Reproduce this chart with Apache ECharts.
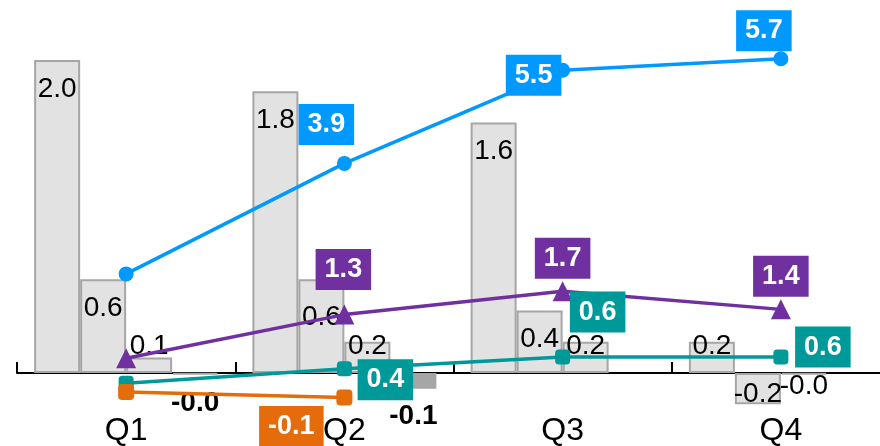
<!DOCTYPE html>
<html>
<head>
<meta charset="utf-8">
<script src="https://cdn.jsdelivr.net/npm/echarts@6/dist/echarts.min.js"></script>
<style>
  html, body { margin: 0; padding: 0; background: #fff; }
  #main { width: 880px; height: 446px; }
</style>
</head>
<body>
<div id="main"></div>
<script>
// categories
const quarters = ['Q1', 'Q2', 'Q3', 'Q4'];

// bar series (left axis)
const barA = [2.0, 1.8, 1.6, 0.2];
const barB = [0.6, 0.6, 0.4, -0.2];
const barC = [0.1, 0.2, 0.2, -0.01];
const barD = [-0.01, -0.1, null, null];

// line series (right axis)
const lineBlue = [2.0, 3.9, 5.5, 5.7];
const linePurple = [0.55, 1.3, 1.7, 1.39];
const lineTeal = [0.12, 0.37, 0.57, 0.57];
const lineOrange = [-0.03, -0.125, null, null];

// label placement for the line labels (pixel offsets from the point, null = hidden)
const blueOffsets = [null, [-18, -39], [-29, 5], [-17, -28]];
const purpleOffsets = [null, [-1, -45], [0, -33], [0, -33]];
const tealOffsets = [null, [41, 11], [35, -45], [42, -10]];
const orangeOffsets = [null, [-53, 29], null, null];

const FONT = '"Liberation Sans", Arial, sans-serif';

function fmt(p) {
  return p.value.toFixed(1);
}

function barLabel(v) {
  if (v == null) return {};
  if (v >= 0.3) return { position: 'insideTop', distance: 15 };
  if (v >= 0) return { position: 'insideBottom', distance: 13 };
  if (v > -0.05) return { position: 'bottom', distance: -3 };
  return { position: 'insideBottom', distance: -4 };
}

function barSeries(name, values, color, bold) {
  return {
    name: name,
    type: 'bar',
    yAxisIndex: 0,
    barWidth: 46,
    barGap: '0%',
    itemStyle: { color: color, borderColor: '#a6a6a6', borderWidth: 2 },
    label: {
      show: true,
      color: '#000',
      fontSize: 28,
      fontFamily: FONT,
      fontWeight: bold ? 'bold' : 'normal',
      formatter: fmt
    },
    data: values.map((v, i) => {
      if (v == null) return null;
      let lab = bold ? { position: 'bottom', distance: 14 } : barLabel(v);
      // Q2 middle bar label sits a little lower in the original
      if (!bold && name === 'B' && i === 1) lab = Object.assign({}, lab, { offset: [0, 9] });
      return { value: v, label: lab };
    })
  };
}

function lineSeries(name, values, color, symbol, size, offsets) {
  return {
    name: name,
    type: 'line',
    yAxisIndex: 1,
    z: 4,
    symbol: symbol,
    symbolSize: size,
    showAllSymbol: true,
    lineStyle: { color: color, width: 3.5 },
    itemStyle: { color: color },
    label: {
      show: true,
      position: 'inside',
      color: '#fff',
      backgroundColor: color,
      fontSize: 27,
      lineHeight: 27,
      fontWeight: 'bold',
      fontFamily: FONT,
      padding: [7, 9],
      formatter: fmt
    },
    data: values.map((v, i) => {
      if (v == null) return null;
      const off = offsets[i];
      return off ? { value: v, label: { offset: off } } : { value: v, label: { show: false } };
    })
  };
}

const chart = echarts.init(document.getElementById('main'));
chart.setOption({
  animation: false,
  backgroundColor: '#fff',
  textStyle: { fontFamily: FONT },
  grid: { left: 17, right: -10, top: 20, bottom: 0, containLabel: false, outerBoundsMode: 'none' },
  xAxis: {
    type: 'category',
    data: quarters,
    boundaryGap: true,
    axisLine: { show: true, onZero: true, onZeroAxisIndex: 0, lineStyle: { color: '#000', width: 2 } },
    axisTick: { show: true, inside: true, length: 11, lineStyle: { color: '#000', width: 2 } },
    axisLabel: { color: '#000', fontSize: 32, fontFamily: FONT, margin: -31 },
    splitLine: { show: false }
  },
  yAxis: [
    { type: 'value', show: false, min: -0.466, max: 2.2556, splitLine: { show: false } },
    { type: 'value', show: false, min: -0.959, max: 6.365, splitLine: { show: false } }
  ],
  series: [
    barSeries('A', barA, '#e2e2e2', false),
    barSeries('B', barB, '#e2e2e2', false),
    barSeries('C', barC, '#e2e2e2', false),
    barSeries('D', barD, '#a6a6a6', true),
    lineSeries('Blue', lineBlue, '#0099ff', 'circle', 15, blueOffsets),
    lineSeries('Purple', linePurple, '#7030a0', 'triangle', 20, purpleOffsets),
    lineSeries('Teal', lineTeal, '#009999', 'roundRect', 15, tealOffsets),
    lineSeries('Orange', lineOrange, '#e46c0a', 'roundRect', 16, orangeOffsets)
  ]
});
</script>
</body>
</html>
